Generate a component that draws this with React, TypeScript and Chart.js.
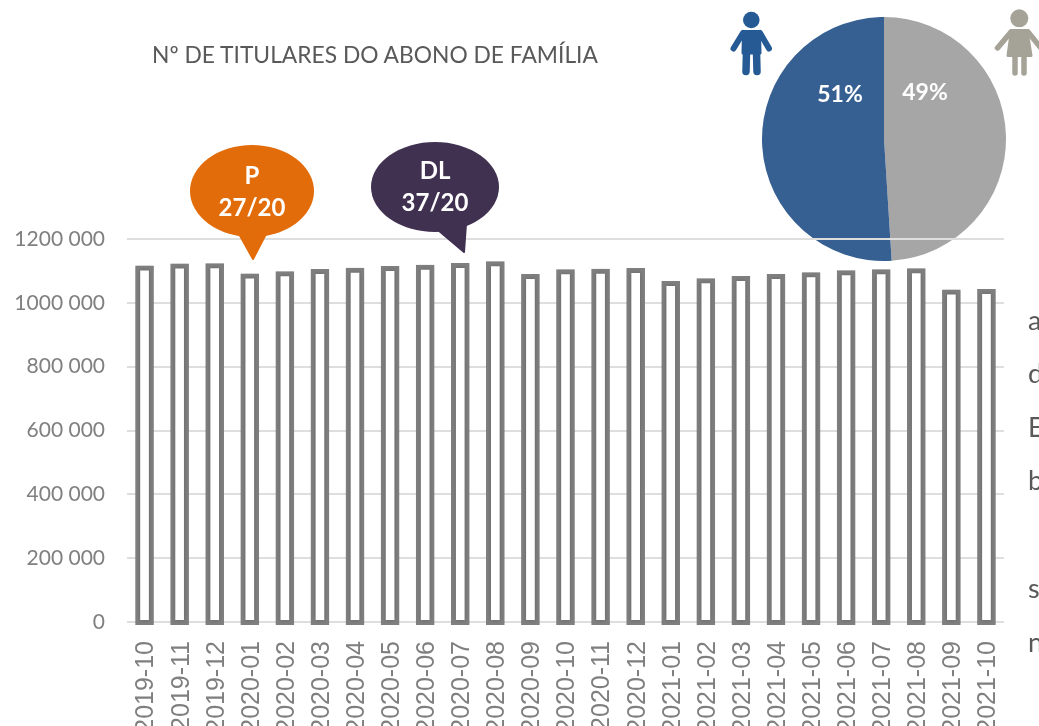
import React, { useEffect, useRef } from "react";
import { Chart, registerables } from "chart.js";

Chart.register(...registerables);

const months = [
  "2019-10", "2019-11", "2019-12", "2020-01", "2020-02", "2020-03", "2020-04", "2020-05", "2020-06",
  "2020-07", "2020-08", "2020-09", "2020-10", "2020-11", "2020-12", "2021-01", "2021-02", "2021-03",
  "2021-04", "2021-05", "2021-06", "2021-07", "2021-08", "2021-09", "2021-10",
];
const holders = [
  1116000, 1122000, 1123000, 1091000, 1098000, 1105000, 1109000, 1114000, 1118000,
  1124000, 1129000, 1089000, 1104000, 1106000, 1108000, 1067000, 1076000, 1083000,
  1089000, 1095000, 1101000, 1104000, 1107000, 1041000, 1042000,
];
const genderLabels = ["Mulheres", "Homens"];
const genderShares = [49, 51];
const genderColors = ["#A6A6A6", "#376092"];
const clippedLetters = [
  { t: "a", y: 322 }, { t: "d", y: 375 }, { t: "E", y: 429 },
  { t: "b", y: 482 }, { t: "s", y: 590 }, { t: "n", y: 644 },
];
const titleText = "Nº DE TITULARES DO ABONO DE FAMÍLIA";

const abs = (l: number, t: number, w: number, h: number): React.CSSProperties => ({
  position: "absolute", left: l, top: t, width: w, height: h,
});

const barShadow = {
  id: "barShadow",
  beforeDatasetsDraw(chart: any) {
    const c = chart.ctx;
    c.save();
    c.shadowColor = "rgba(0,0,0,0.22)";
    c.shadowBlur = 4;
  },
  afterDatasetsDraw(chart: any) {
    chart.ctx.restore();
  },
};

export default function App() {
  const barRef = useRef<HTMLCanvasElement>(null);
  const pieRef = useRef<HTMLCanvasElement>(null);

  useEffect(() => {
    const pie = new Chart(pieRef.current!, {
      type: "pie",
      data: {
        labels: genderLabels,
        datasets: [{ data: genderShares, backgroundColor: genderColors, borderWidth: 0 }],
      },
      options: {
        responsive: false,
        animation: false,
        layout: { padding: 0 },
        plugins: { legend: { display: false }, tooltip: { enabled: false } },
      },
    });
    const bar = new Chart(barRef.current!, {
      type: "bar",
      data: {
        labels: months,
        datasets: [{
          data: holders,
          base: -8000,
          clip: false,
          backgroundColor: "#FFFFFF",
          borderColor: "#7F7F7F",
          borderWidth: 5,
          borderSkipped: false,
          barThickness: 18,
        } as any],
      },
      plugins: [barShadow],
      options: {
        responsive: false,
        animation: false,
        layout: { padding: { top: 239, right: 35, left: 0, bottom: 0 } },
        plugins: { legend: { display: false }, tooltip: { enabled: false } },
        scales: {
          x: {
            grid: { display: false },
            border: { display: false },
            afterFit: (s: any) => { s.height = 138; },
            ticks: {
              autoSkip: false,
              minRotation: 90,
              maxRotation: 90,
              padding: 11,
              labelOffset: 2,
              color: "#7F7F7F",
              font: { family: "'Liberation Sans'", size: 25 },
            },
          },
          y: {
            min: 0,
            max: 1200000,
            afterFit: (s: any) => { s.width = 127; },
            grid: { color: "#DEDEDE", lineWidth: 2, drawTicks: false },
            border: { display: false },
            ticks: {
              stepSize: 200000,
              padding: 22,
              color: "#808080",
              font: { family: "Lato", size: 21 },
              callback: (v: any) => {
                const n = Number(v);
                if (n === 0) return "0";
                const th = Math.floor(n / 1000);
                return `${th} 000`;
              },
            },
          },
        },
      },
    });
    return () => { bar.destroy(); pie.destroy(); };
  }, []);

  return (
    <div style={{ position: "fixed", left: 0, top: 0, width: 1039, height: 726, overflow: "hidden", background: "#fff", fontFamily: "Lato" }}>
      <canvas ref={pieRef} width={244} height={244} style={{ ...abs(762, 17, 244, 244), display: "block" }} />
      <canvas ref={barRef} width={1039} height={760} style={{ ...abs(0, 0, 1039, 760), display: "block" }} />
      <div style={{ position: "absolute", left: 152, top: 40, fontSize: 22.8, lineHeight: "28px", color: "#595959", whiteSpace: "nowrap" }}>{titleText}</div>
      {clippedLetters.map((c) => (
        <div key={c.y} style={{ position: "absolute", left: 1028, top: c.y - 18, fontSize: 27, lineHeight: "32px", color: "#595959" }}>{c.t}</div>
      ))}
      <svg width={1039} height={726} style={{ position: "absolute", left: 0, top: 0 }}>
        <g fill="#E36C0A">
          <ellipse cx={252} cy={191} rx={62} ry={46} />
          <path d="M238 232 L253 259 L267 232 Z" strokeLinejoin="round" stroke="#E36C0A" strokeWidth={2} />
        </g>
        <g fill="#403151">
          <ellipse cx={435} cy={187} rx={64} ry={45} />
          <path d="M438 230 L464 252 L466 224 Z" strokeLinejoin="round" stroke="#403151" strokeWidth={2} />
        </g>
        <g fill="#FFFFFF" fontFamily="Lato" fontWeight={700} fontSize={24} textAnchor="middle">
          <text x={252} y={184}>P</text>
          <text x={252} y={216}>27/20</text>
          <text x={435} y={179}>DL</text>
          <text x={435} y={211}>37/20</text>
          <text x={840} y={102} fontSize={23}>51%</text>
          <text x={925} y={100} fontSize={23}>49%</text>
        </g>
        <g fill="#255A95" stroke="#255A95" strokeLinecap="round" strokeLinejoin="round">
          <circle cx={751.3} cy={20} r={8.3} stroke="none" />
          <path d="M743.5 31.5 H759.5 L760 53 H743 Z" strokeWidth={3} />
          <path d="M743 33 L733.5 48.5 M760 33 L769 48.5" strokeWidth={6} fill="none" />
          <path d="M746.5 52 L746 71.5 M756.5 52 L757 71.5" strokeWidth={7.5} fill="none" />
        </g>
        <g fill="#A5A297" stroke="#A5A297" strokeLinecap="round" strokeLinejoin="round">
          <circle cx={1019.3} cy={18.3} r={9} stroke="none" />
          <path d="M1011.5 30.5 H1027 L1031 55.5 H1008 Z" strokeWidth={3} />
          <path d="M1011 32 L997.5 48 M1028 32 L1041 48" strokeWidth={5.5} fill="none" />
          <path d="M1015 56 V73 M1024 56 V73" strokeWidth={5.5} fill="none" />
        </g>
      </svg>
    </div>
  );
}
